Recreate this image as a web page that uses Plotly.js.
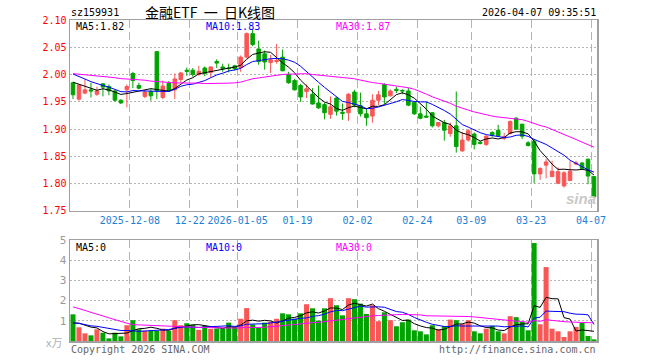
<!DOCTYPE html>
<html><head><meta charset="utf-8">
<script src="https://cdn.plot.ly/plotly-3.0.1.min.js"></script>
<style>html,body{margin:0;padding:0;background:#fff;}#chart{width:660px;height:360px;}</style>
</head><body><div id="chart"></div>
<script>
// ---- data ----
const openP = [1.985,1.955,1.966,1.972,1.964,1.983,1.978,1.970,1.953,1.972,
 2.002,1.980,1.960,1.969,2.042,1.958,1.984,1.972,1.991,2.008,
 2.008,2.000,2.012,2.004,2.024,2.014,2.012,2.016,2.013,2.032,
 2.075,2.047,2.038,2.022,2.024,2.032,2.000,1.989,1.980,1.969,
 1.964,1.948,1.945,1.927,1.957,1.931,1.930,1.968,1.943,1.928,
 1.924,1.953,1.982,1.961,1.973,1.971,1.970,1.949,1.928,1.924,
 1.930,1.906,1.912,1.892,1.906,1.860,1.880,1.891,1.876,1.872,
 1.894,1.898,1.883,1.892,1.920,1.909,1.875,1.878,1.818,1.834,
 1.813,1.801,1.796,1.806,1.836,1.838,1.845,1.813];
const highP = [1.987,1.982,1.992,1.985,1.978,1.984,1.982,1.972,1.955,1.982,
 2.005,1.985,1.972,1.974,2.043,1.989,1.988,2.002,2.005,2.013,
 2.012,2.016,2.015,2.015,2.028,2.020,2.020,2.018,2.035,2.077,
 2.082,2.062,2.044,2.036,2.056,2.046,2.005,1.992,1.983,1.982,
 1.975,1.980,1.948,1.960,1.958,1.947,1.966,1.972,1.967,1.938,
 1.964,1.970,1.984,1.973,1.978,1.973,1.976,1.950,1.941,1.950,
 1.931,1.913,1.917,1.912,1.969,1.895,1.900,1.894,1.878,1.889,
 1.896,1.908,1.893,1.916,1.922,1.910,1.878,1.882,1.830,1.845,
 1.842,1.830,1.823,1.842,1.842,1.840,1.846,1.813];
const lowP = [1.955,1.952,1.964,1.958,1.961,1.960,1.962,1.950,1.946,1.940,
 1.975,1.973,1.957,1.952,1.955,1.955,1.968,1.955,1.985,1.998,
 1.996,1.998,1.997,1.994,2.012,2.005,2.004,2.007,2.005,2.030,
 2.052,2.018,2.009,2.003,2.020,2.006,1.983,1.971,1.950,1.957,
 1.945,1.937,1.918,1.919,1.925,1.917,1.915,1.940,1.923,1.906,
 1.912,1.944,1.946,1.960,1.966,1.964,1.942,1.926,1.918,1.921,
 1.903,1.903,1.879,1.886,1.857,1.859,1.877,1.863,1.872,1.869,
 1.886,1.886,1.880,1.890,1.899,1.882,1.868,1.801,1.807,1.810,
 1.812,1.799,1.793,1.805,1.834,1.826,1.799,1.775];
const closeP = [1.963,1.981,1.972,1.970,1.970,1.977,1.970,1.953,1.948,1.978,
 1.989,1.975,1.968,1.961,1.970,1.979,1.970,1.992,2.003,2.006,
 2.000,2.006,2.002,2.014,2.021,2.011,2.011,2.011,2.032,2.075,
 2.055,2.024,2.023,2.027,2.026,2.007,1.985,1.972,1.959,1.974,
 1.946,1.939,1.930,1.941,1.933,1.929,1.964,1.944,1.928,1.921,
 1.953,1.963,1.959,1.970,1.971,1.970,1.944,1.928,1.920,1.922,
 1.906,1.912,1.898,1.906,1.868,1.880,1.897,1.872,1.874,1.887,
 1.889,1.888,1.886,1.914,1.900,1.887,1.870,1.818,1.828,1.840,
 1.823,1.822,1.820,1.823,1.838,1.828,1.814,1.776];
const volume = [1.32,0.68,0.38,0.28,0.58,0.41,0.13,0.41,0.23,0.78,
 1.03,0.58,0.51,0.51,0.51,0.61,0.50,1.03,0.78,0.88,
 0.81,0.55,0.75,0.60,0.62,0.62,0.91,0.70,1.10,1.63,
 0.82,0.66,0.91,0.95,1.10,1.37,1.32,1.10,1.37,1.82,
 1.62,1.01,1.62,2.12,1.77,1.27,2.12,2.07,1.85,1.34,
 1.77,0.98,1.42,1.03,0.73,0.93,1.06,0.53,0.48,0.33,
 0.78,0.58,0.73,1.06,1.03,0.84,1.03,0.48,0.38,0.61,
 0.75,0.48,0.38,1.23,1.18,0.94,0.53,4.85,0.83,3.66,
 0.61,0.48,0.20,0.48,0.70,0.89,0.25,0.08];
// estimated sessions before the visible window (only feed the moving averages)
const priorClose = [2.010,2.015,2.005,1.995,1.990,1.998,2.004,2.000,1.995,1.996,
 1.998,2.006,2.012,2.000,1.994,2.004,2.010,2.008,1.998,2.004,
 2.020,2.025,2.018,2.010,2.007,2.000,1.994,1.990,1.983];
const priorVolume = [2.8,3.5,3.2,2.9,3.4,3.0,3.3,2.9,3.1,3.2,
 1.0,1.1,0.9,1.2,1.0,1.1,0.95,1.05,1.1,1.1,
 0.85,1.0,0.9,0.8,0.9,0.7,0.9,0.75,0.78];
const tickIndex = [10,20,28,38,48,58,67,77,87];
const tickLabels = ["2025-12-08","12-22","2026-01-05","01-19","02-02","02-24","03-09","03-23","04-07"];
const priceTicks = [1.75,1.80,1.85,1.90,1.95,2.00,2.05,2.10];
const volTicks = [1,2,3,4,5];
const maPeriods = [5,10,30];

// ---- helpers ----
function movingAvg(prior, vals, n){
  const all = prior.concat(vals), off = prior.length;
  return vals.map((_, i) => { let s = 0; for (let k = 0; k < n; k++) s += all[off + i - k]; return s / n; });
}
const idx = closeP.map((_, i) => i);
const UP = '#fb5656', DOWN = '#00a300';
const MA_COLORS = ['#000000', '#0000ff', '#ff00ff'];
const MONO = 'DejaVu Sans Mono, monospace';
const GRID = '#b4b4b4';
const tickVals = tickIndex.map(t => t - 0.5);
const px = p => (p - 70) / 527;
const py = p => (341 - p) / 321;

const traces = [];
traces.push({
  type: 'candlestick', x: idx, open: openP, high: highP, low: lowP, close: closeP,
  xaxis: 'x', yaxis: 'y', whiskerwidth: 0,
  increasing: {line: {color: UP, width: 1}, fillcolor: UP},
  decreasing: {line: {color: DOWN, width: 1}, fillcolor: DOWN},
  hoverinfo: 'skip'
});
maPeriods.forEach((n, k) => {
  traces.push({type: 'scatter', mode: 'lines', x: idx, y: movingAvg(priorClose, closeP, n),
    xaxis: 'x', yaxis: 'y', line: {color: MA_COLORS[k], width: 1}, hoverinfo: 'skip'});
});
traces.push({type: 'bar', x: idx, y: volume, xaxis: 'x2', yaxis: 'y2', width: 0.84,
  marker: {color: idx.map(i => closeP[i] >= openP[i] ? UP : DOWN), line: {width: 0}}, hoverinfo: 'skip'});
maPeriods.forEach((n, k) => {
  traces.push({type: 'scatter', mode: 'lines', x: idx, y: movingAvg(priorVolume, volume, n),
    xaxis: 'x2', yaxis: 'y2', line: {color: MA_COLORS[k], width: 1}, hoverinfo: 'skip'});
});

const lastMA = maPeriods.map(n => movingAvg(priorClose, closeP, n).slice(-1)[0]);

function ann(text, x, y, opts){
  return Object.assign({text: text, xref: 'paper', yref: 'paper', x: px(x), y: py(y),
    showarrow: false, xanchor: 'left', yanchor: 'middle',
    font: {family: MONO, size: 10, color: '#000'}}, opts || {});
}
const annotations = [
  ann('sz159931', 69, 12),
  ann('金融ETF  一  日K线图', 210, 12, {xanchor: 'center', font: {family: 'Noto Sans CJK SC', size: 14, color: '#000'}}),
  ann('2026-04-07 09:35:51', 598, 12, {xanchor: 'right'}),
  ann('MA5:' + lastMA[0].toFixed(2), 74, 26),
  ann('MA10:' + (1.83).toFixed(2), 204, 26, {font: {family: MONO, size: 10, color: MA_COLORS[1]}}),
  ann('MA30:' + lastMA[2].toFixed(2), 334, 26, {font: {family: MONO, size: 10, color: MA_COLORS[2]}}),
  ann('MA5:0', 74, 247),
  ann('MA10:0', 204, 247, {font: {family: MONO, size: 10, color: MA_COLORS[1]}}),
  ann('MA30:0', 334, 247, {font: {family: MONO, size: 10, color: MA_COLORS[2]}}),
  ann('x万', 64, 342, {xanchor: 'right', font: {family: 'Noto Sans CJK SC', size: 11, color: '#b0b0b0'}}),
  ann('Copyright 2026 SINA.COM', 69, 349, {font: {family: MONO, size: 10, color: '#666'}}),
  ann('http://finance.sina.com.cn', 598, 349, {xanchor: 'right', font: {family: MONO, size: 10, color: '#666'}}),
  ann('<b><i>sina</i></b>', 581, 199, {xanchor: 'center', font: {family: 'Liberation Sans', size: 15, color: '#c9c9c9'}})
];

const axisCommon = {showline: true, mirror: true, linecolor: '#a0a0a0', linewidth: 1.5,
  zeroline: false, ticks: '', fixedrange: true};
const layout = {
  width: 660, height: 360, margin: {l: 70, r: 63, t: 20, b: 19},
  paper_bgcolor: '#fff', plot_bgcolor: '#fff', showlegend: false, hovermode: false,
  boxgap: 0.16,
  xaxis: Object.assign({}, axisCommon, {type: 'linear', domain: [0, 1], anchor: 'y', range: [-0.5, idx.length - 0.5],
    tickmode: 'array', tickvals: tickVals, ticktext: tickLabels,
    tickfont: {family: MONO, size: 10, color: '#1b7fd6'},
    showgrid: true, gridcolor: GRID, griddash: '8px,4px', gridwidth: 1, rangeslider: {visible: false}}),
  yaxis: Object.assign({}, axisCommon, {domain: [0.405, 1], anchor: 'x', range: [priceTicks[0], priceTicks[priceTicks.length - 1]],
    tickmode: 'array', tickvals: priceTicks, ticktext: priceTicks.map(v => v.toFixed(2)),
    tickfont: {family: MONO, size: 10, color: '#ff0000'},
    showgrid: true, gridcolor: GRID, griddash: '2px,2px', gridwidth: 1}),
  xaxis2: Object.assign({}, axisCommon, {type: 'linear', domain: [0, 1], anchor: 'y2', range: [-0.5, idx.length - 0.5],
    tickmode: 'array', tickvals: tickVals, showticklabels: false,
    showgrid: true, gridcolor: GRID, griddash: '8px,4px', gridwidth: 1}),
  yaxis2: Object.assign({}, axisCommon, {domain: [0, 0.3146], anchor: 'x2', range: [0, 5],
    tickmode: 'array', tickvals: volTicks, ticktext: volTicks.map(String),
    tickfont: {family: MONO, size: 11, color: '#999'},
    showgrid: true, gridcolor: GRID, griddash: '2px,2px', gridwidth: 1}),
  annotations: annotations
};
Plotly.newPlot('chart', traces, layout, {staticPlot: true, displayModeBar: false});
</script>
</body></html>
